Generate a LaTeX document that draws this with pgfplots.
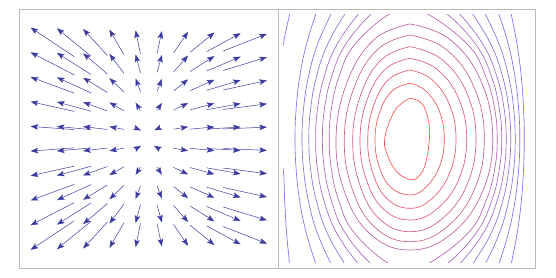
\documentclass[border=0pt]{standalone}
\usepackage{pgfplots}
\pgfplotsset{compat=1.18}
\usepackage{pgfplotstable}
\usetikzlibrary{arrows.meta}
\definecolor{arr}{RGB}{60,60,160}
\definecolor{frame}{RGB}{185,185,185}
\definecolor{cr}{RGB}{255,80,80}
\definecolor{cb}{RGB}{115,115,255}
\pgfplotstableread{
x y u v
74.25 221.33 -43.65 29.07
74.25 203.09 -43.65 22.61
74.25 184.85 -43.65 16.15
74.25 166.61 -43.65 9.69
74.25 148.37 -43.65 3.23
74.25 130.13 -43.65 -3.23
74.25 111.89 -43.65 -9.69
74.25 93.65 -43.65 -16.15
74.25 75.41 -43.65 -22.61
74.25 57.17 -43.65 -29.07
90.85 221.96 -33.95 27.77
90.85 203.58 -33.95 21.60
90.85 185.20 -33.95 15.43
90.85 166.82 -33.95 9.26
90.85 148.44 -33.95 3.09
90.85 130.06 -33.95 -3.09
90.85 111.68 -33.95 -9.26
90.85 93.30 -33.95 -15.43
90.85 74.92 -33.95 -21.60
90.85 56.54 -33.95 -27.77
107.35 222.59 -24.25 26.42
107.35 204.07 -24.25 20.55
107.35 185.55 -24.25 14.68
107.35 167.03 -24.25 8.81
107.35 148.51 -24.25 2.94
107.35 129.99 -24.25 -2.94
107.35 111.47 -24.25 -8.81
107.35 92.95 -24.25 -14.68
107.35 74.43 -24.25 -20.55
107.35 55.91 -24.25 -26.42
123.95 223.22 -14.55 25.07
123.95 204.56 -14.55 19.50
123.95 185.90 -14.55 13.93
123.95 167.24 -14.55 8.36
123.95 148.58 -14.55 2.79
123.95 129.92 -14.55 -2.79
123.95 111.26 -14.55 -8.36
123.95 92.60 -14.55 -13.93
123.95 73.94 -14.55 -19.50
123.95 55.28 -14.55 -25.07
140.45 223.85 -4.85 23.76
140.45 205.05 -4.85 18.48
140.45 186.25 -4.85 13.20
140.45 167.45 -4.85 7.92
134.30 150.30 6.70 -2.60
135.00 128.70 6.00 3.60
140.45 111.05 -4.85 -7.92
140.45 92.25 -4.85 -13.20
140.45 73.45 -4.85 -18.48
140.45 54.65 -4.85 -23.76
157.05 224.48 4.85 22.41
157.05 205.54 4.85 17.43
157.05 186.60 4.85 12.45
157.05 167.66 4.85 7.47
160.00 150.30 -5.70 -2.60
160.00 128.70 -6.00 3.60
157.05 110.84 4.85 -7.47
157.05 91.90 4.85 -12.45
157.05 72.96 4.85 -17.43
157.05 54.02 4.85 -22.41
173.55 225.11 14.55 21.11
173.55 206.03 14.55 16.42
173.55 186.95 14.55 11.73
173.55 167.87 14.55 7.04
173.55 148.79 14.55 2.35
173.55 129.71 14.55 -2.35
173.55 110.63 14.55 -7.04
173.55 91.55 14.55 -11.73
173.55 72.47 14.55 -16.42
173.55 53.39 14.55 -21.11
190.15 225.74 24.25 19.76
190.15 206.52 24.25 15.37
190.15 187.30 24.25 10.98
190.15 168.08 24.25 6.59
190.15 148.86 24.25 2.20
190.15 129.64 24.25 -2.20
190.15 110.42 24.25 -6.59
190.15 91.20 24.25 -10.98
190.15 71.98 24.25 -15.37
190.15 52.76 24.25 -19.76
206.65 226.37 33.95 18.41
206.65 207.01 33.95 14.32
206.65 187.65 33.95 10.23
206.65 168.29 33.95 6.14
206.65 148.93 33.95 2.05
206.65 129.57 33.95 -2.05
206.65 110.21 33.95 -6.14
206.65 90.85 33.95 -10.23
206.65 71.49 33.95 -14.32
206.65 52.13 33.95 -18.41
223.25 227.00 43.65 17.10
223.25 207.50 43.65 13.30
223.25 188.00 43.65 9.50
223.25 168.50 43.65 5.70
223.25 149.00 43.65 1.90
223.25 129.50 43.65 -1.90
223.25 110.00 43.65 -5.70
223.25 90.50 43.65 -9.50
223.25 71.00 43.65 -13.30
223.25 51.50 43.65 -17.10
}\quiverdata
\begin{document}
\begin{tikzpicture}
\path[use as bounding box] (0pt,0pt) rectangle (556pt,278pt);
\begin{axis}[at={(19.5pt,10pt)}, anchor=south west, scale only axis,
  width=258.5pt, height=258.5pt, xmin=19.5, xmax=278, ymin=10, ymax=268.5,
  ticks=none, axis line style={frame, line width=0.8pt}]
\addplot[arr, line width=0.5pt, -{Stealth[length=7.5pt,width=5.5pt,inset=1.5pt]},
  quiver={u=\thisrow{u}, v=\thisrow{v}}] table[x=x,y=y] {\quiverdata};
\end{axis}
\begin{axis}[at={(278pt,10pt)}, anchor=south west, scale only axis,
  width=257.5pt, height=258.5pt, xmin=278, xmax=535.5, ymin=10, ymax=268.5,
  ticks=none, axis line style={frame, line width=0.8pt}]
\end{axis}
\begin{axis}[at={(283pt,16pt)}, anchor=south west, scale only axis,
  width=248pt, height=247pt, xmin=283, xmax=531, ymin=16, ymax=263, hide axis]
\pgfplotsset{every axis plot/.append style={line width=0.65pt, smooth, tension=0.7}}
\addplot[cr] coordinates {(410,179.7) (421.7,174.7) (428.3,158) (429.3,138) (425,113) (418.3,101.3) (410,98.7) (396.7,106.3) (386.7,124.7) (385,141.3) (393.3,164.7) (401.7,174.7) (410,179.7)};
\addplot[cr!92!cb] coordinates {(410,194.7) (425.65,187.2) (439.3,166.85) (444.3,139) (439.3,111) (425.65,90.5) (410,83) (391,90.5) (379.3,111) (375,139) (380.1,166.85) (392.3,187.2) (410,194.7)};
\addplot[cr!85!cb] coordinates {(410,208) (431.5,198.75) (449.4,173.5) (456,139) (449.4,104.35) (431.5,79) (410,69.7) (387.35,79) (373,104.35) (367.7,139) (374,173.5) (388.9,198.75) (410,208)};
\addplot[cr!77!cb] coordinates {(410,219.7) (436.85,208.9) (458.7,179.35) (466.7,139) (458.7,98.5) (436.85,68.9) (410,58) (383.5,68.9) (366.3,98.5) (360,139) (367.5,179.35) (385.4,208.9) (410,219.7)};
\addplot[cr!69!cb] coordinates {(410,231.3) (441.5,218.9) (466.75,185.15) (476,139) (466.75,92.65) (441.5,58.7) (410,46.3) (379.85,58.7) (360,92.65) (352.7,139) (361.4,185.15) (382,218.9) (410,231.3)};
\addplot[cr!62!cb] coordinates {(410,243) (445.65,229.05) (473.95,191) (484.3,139) (473.95,87.65) (445.65,50.05) (410,36.3) (375.65,50.05) (352.7,87.65) (344.3,139) (354.3,191) (378.2,229.05) (410,243)};
\addplot[cr!54!cb] coordinates {(410,254) (449.85,238.6) (481.2,196.5) (492.7,139) (481.2,83.5) (449.85,42.9) (410,28) (371.5,42.9) (345.5,83.5) (336,139) (347.4,196.5) (374.3,238.6) (410,254)};
\addplot[cr!46!cb] coordinates {(409,267) (429.4,263) (469,232) (485.9,201) (494.5,170) (497.2,139) (494.5,108) (485.9,77) (469,46) (429.4,15) (409,11) (387.7,15) (353.6,46) (338.9,77) (331.5,108) (329.2,139) (331.5,170) (338.9,201) (353.6,232) (387.7,263) (409,267)};
\addplot[cr!38!cb] coordinates {(390.3,274) (370.2,263) (344.6,232) (331.5,201) (324.6,170) (322.4,139) (324.6,108) (331.5,77) (344.6,46) (370.2,15) (390.3,4)};
\addplot[cr!38!cb] coordinates {(425.7,274) (448.2,263) (476.9,232) (491.6,201) (499.2,170) (501.7,139) (499.2,108) (491.6,77) (476.9,46) (448.2,15) (425.7,4)};
\addplot[cr!31!cb] coordinates {(370.4,274) (357.6,263) (336.1,232) (324.1,201) (317.6,170) (315.6,139) (317.6,108) (324.1,77) (336.1,46) (357.6,15) (370.4,4)};
\addplot[cr!31!cb] coordinates {(446.7,274) (460.6,263) (484,232) (497,201) (504,170) (506.2,139) (504,108) (497,77) (484,46) (460.6,15) (446.7,4)};
\addplot[cr!23!cb] coordinates {(353.4,274) (344.2,263) (326.8,232) (316.4,201) (310.7,170) (308.8,139) (310.7,108) (316.4,77) (326.8,46) (344.2,15) (353.4,4)};
\addplot[cr!23!cb] coordinates {(463.6,274) (473.3,263) (491.7,232) (502.7,201) (508.7,170) (510.7,139) (508.7,108) (502.7,77) (491.7,46) (473.3,15) (463.6,4)};
\addplot[cr!15!cb] coordinates {(337.1,274) (330.6,263) (316.9,232) (308.4,201) (303.6,170) (302,139) (303.6,108) (308.4,77) (316.9,46) (330.6,15) (337.1,4)};
\addplot[cr!15!cb] coordinates {(479.1,274) (485.8,263) (499.8,232) (508.7,201) (513.6,170) (515.2,139) (513.6,108) (508.7,77) (499.8,46) (485.8,15) (479.1,4)};
\addplot[cr!8!cb] coordinates {(319.9,274) (315.5,263) (306,232) (299.7,201) (296.2,170) (295,139) (296.2,108) (299.7,77) (306,46) (315.5,15) (319.9,4)};
\addplot[cr!8!cb] coordinates {(494.8,274) (499.2,263) (508.7,232) (515,201) (518.6,170) (519.8,139) (518.6,108) (515,77) (508.7,46) (499.2,15) (494.8,4)};
\addplot[cb] coordinates {(292.4,274) (289.5,263) (282.9,232) (278.4,201) (275.9,170) (275,139) (277,122) (283,110) (284.7,77) (286.5,46) (289.3,16) (290,4)};
\addplot[cb] coordinates {(508.8,274) (511.4,263) (517.3,232) (521.3,201) (523.5,170) (524.3,139) (523.5,108) (521.3,77) (517.3,46) (511.4,15) (508.8,4)};
\end{axis}
\end{tikzpicture}
\end{document}
